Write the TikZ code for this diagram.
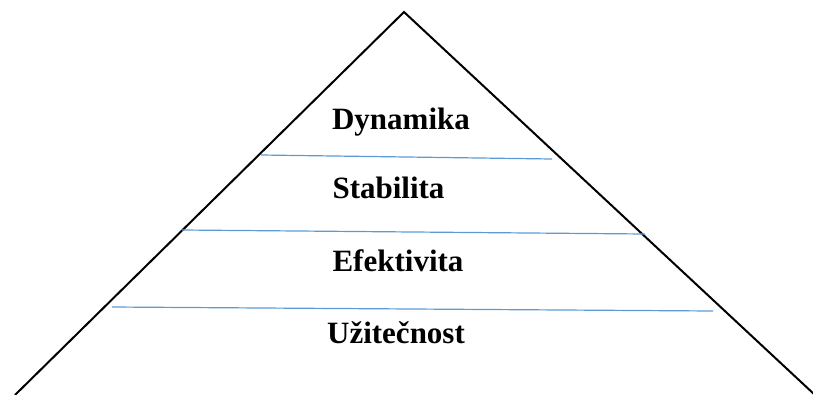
\documentclass[tikz,border=0pt]{standalone}
\usepackage{fontspec}
\setmainfont{Liberation Serif}
\usetikzlibrary{positioning}
\definecolor{tierblue}{RGB}{91,155,213}
\tikzset{
    level/.style={font=\fontsize{31}{37}\selectfont\bfseries, anchor=base, inner sep=0pt},
    divider/.style={tierblue, line width=1.2pt},
    outline/.style={black, line width=2pt}
}
\begin{document}
\begin{tikzpicture}[x=1pt, y=-1pt]
        \useasboundingbox (0,0) rectangle (813,394);
        \coordinate (top) at (404,12);
        \coordinate (bl) at (15,395);
        \coordinate (br) at (815,395);

        \draw[outline] (bl) -- (top) -- (br);

        \coordinate (d1l) at (261,155);
        \coordinate (d1r) at (552,159);
        \coordinate (d2l) at (182,230);
        \coordinate (d2r) at (645,234);
        \coordinate (d3l) at (112,307);
        \coordinate (d3r) at (713,311);
        \draw[divider] (d1l) -- (d1r);
        \draw[divider] (d2l) -- (d2r);
        \draw[divider] (d3l) -- (d3r);

        \node[level] at (401,129)(dyn){Dynamika};
        \node[level] at (388.5,198)(stab){Stabilita};
        \node[level] at (398,271)(efek){Efektivita};
        \node[level] at (396,343)(uzit){Užitečnost};
    \end{tikzpicture}
\end{document}
